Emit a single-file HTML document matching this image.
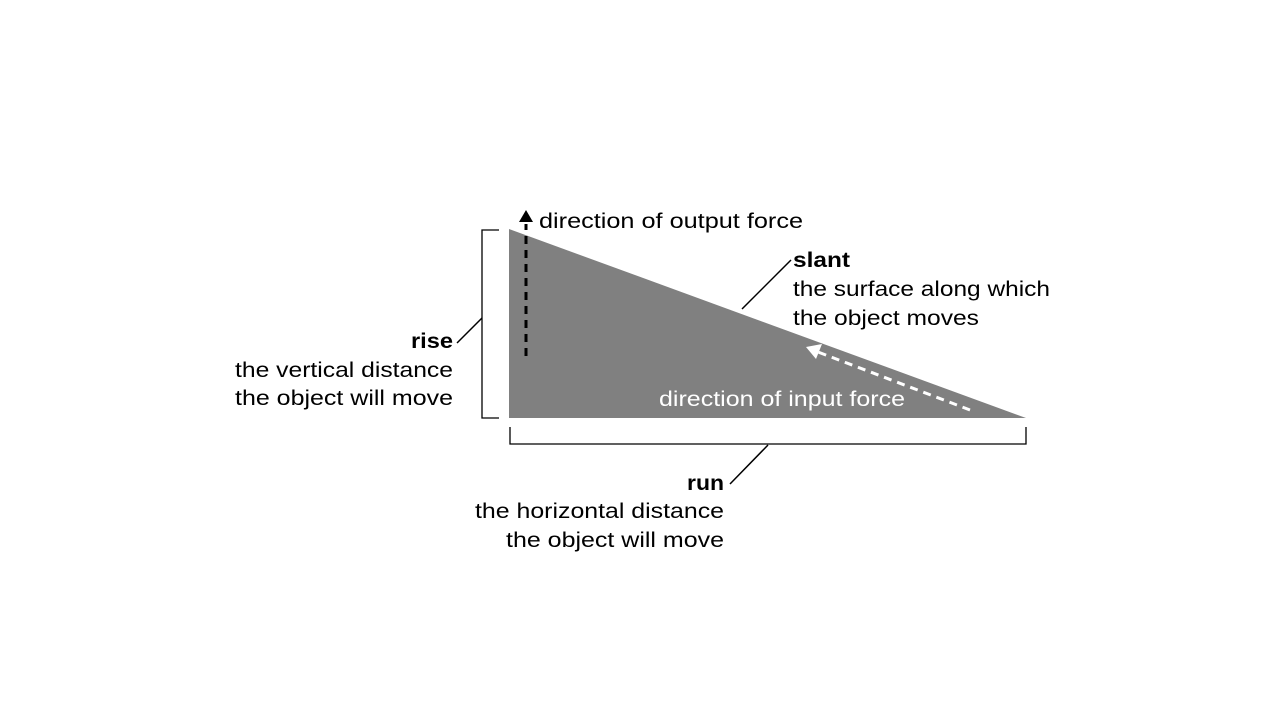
<!DOCTYPE html>
<html><head><meta charset="utf-8"><style>
body{margin:0;background:#fff}
svg{display:block}
text{font-family:"Liberation Sans","DejaVu Sans",sans-serif;font-size:21px;fill:#000}
</style></head><body>
<svg width="1280" height="720" viewBox="0 0 1280 720">
<polygon points="509,229 509,418 1026,418" fill="#808080"/>
<path d="M499,230H482V418H499" fill="none" stroke="#000" stroke-width="1.3"/>
<path d="M510,427V444H1026V427" fill="none" stroke="#000" stroke-width="1.3"/>
<line x1="457" y1="343" x2="482" y2="318" stroke="#000" stroke-width="1.5"/>
<line x1="742" y1="309" x2="791" y2="260" stroke="#000" stroke-width="1.5"/>
<line x1="730" y1="484" x2="768" y2="445" stroke="#000" stroke-width="1.5"/>
<line x1="526" y1="356" x2="526" y2="224" stroke="#000" stroke-width="3" stroke-dasharray="8,6"/>
<polygon points="526,210 519,222 533,222" fill="#000"/>
<line x1="970" y1="410" x2="818" y2="352" stroke="#fff" stroke-width="3" stroke-dasharray="8,6"/>
<polygon points="806,347 822,344 816,359" fill="#fff"/>
<text x="539" y="228" textLength="264" lengthAdjust="spacingAndGlyphs">direction of output force</text>
<text x="793" y="267" font-weight="bold" textLength="57" lengthAdjust="spacingAndGlyphs">slant</text>
<text x="793" y="296" textLength="257" lengthAdjust="spacingAndGlyphs">the surface along which</text>
<text x="793" y="325" textLength="186" lengthAdjust="spacingAndGlyphs">the object moves</text>
<text x="411" y="348" font-weight="bold" textLength="42" lengthAdjust="spacingAndGlyphs">rise</text>
<text x="235" y="377" textLength="218" lengthAdjust="spacingAndGlyphs">the vertical distance</text>
<text x="235" y="405" textLength="218" lengthAdjust="spacingAndGlyphs">the object will move</text>
<text x="659" y="406" style="fill:#fff" textLength="246" lengthAdjust="spacingAndGlyphs">direction of input force</text>
<text x="687" y="490" font-weight="bold" textLength="37" lengthAdjust="spacingAndGlyphs">run</text>
<text x="475" y="518" textLength="249" lengthAdjust="spacingAndGlyphs">the horizontal distance</text>
<text x="506" y="547" textLength="218" lengthAdjust="spacingAndGlyphs">the object will move</text>
</svg>
</body></html>
